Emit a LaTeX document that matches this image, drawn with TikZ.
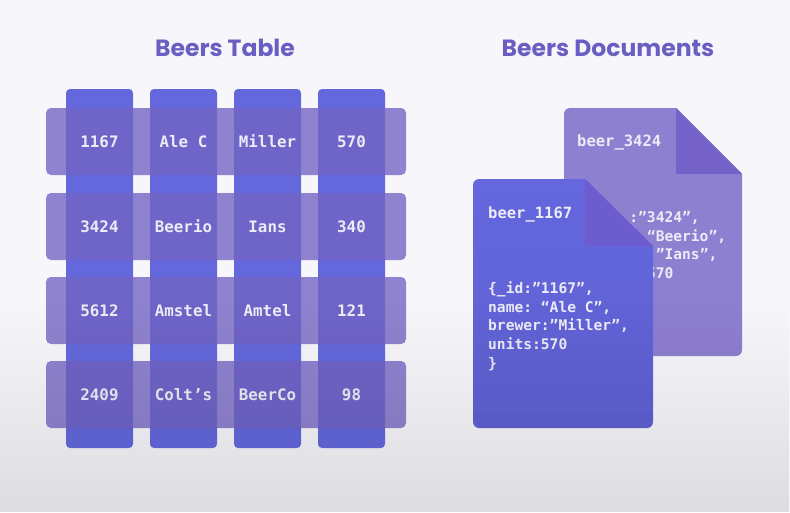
\documentclass[tikz,border=0pt]{standalone}
\usepackage{fontspec}
\setmainfont{Poppins}
\setmonofont{DejaVu Sans Mono}
\usetikzlibrary{fadings}

\definecolor{bgtop}{RGB}{247,247,251}
\definecolor{colblue}{RGB}{100,104,220}
\definecolor{rowpurple}{RGB}{115,99,195}
\definecolor{backdoc}{RGB}{142,128,208}
\definecolor{backfold}{RGB}{116,98,200}
\definecolor{fronttop}{RGB}{100,103,221}
\definecolor{frontbot}{RGB}{95,96,210}
\definecolor{frontfold}{RGB}{109,92,205}
\definecolor{titlecol}{RGB}{106,94,194}
\definecolor{celltext}{RGB}{236,236,246}

\tikzset{
  x=1pt, y=-1pt,
  heading/.style={font=\fontsize{23.5}{28}\selectfont\bfseries, text=titlecol,
    inner sep=0pt, text height=16.5pt, text depth=0pt},
  colbar/.style={fill=colblue, rounded corners=4pt, minimum width=67pt,
    minimum height=359pt, inner sep=0pt},
  rowbar/.style={fill=rowpurple, fill opacity=0.78, rounded corners=5pt,
    minimum width=360pt, minimum height=67pt, inner sep=0pt},
  cell/.style={font=\fontsize{15.8}{18}\ttfamily\bfseries, text=celltext,
    inner sep=0pt, text height=11.5pt, text depth=0pt},
  doctitle/.style={font=\fontsize{15.5}{18}\ttfamily\bfseries, text=celltext,
    inner sep=0pt, anchor=base west},
  docline/.style={font=\fontsize{14.6}{18}\ttfamily\bfseries, text=celltext,
    inner sep=0pt, anchor=base west},
}

\begin{document}
\begin{tikzpicture}
\useasboundingbox (0,0) rectangle (790,512);
\fill[bgtop] (0,0) rectangle (790,512);

% headings
\node[heading] (tabhead) at (225,48) {Beers Table};
\node[heading] (dochead) at (608,48) {Beers Documents};

% table: columns underneath, translucent rows on top
\foreach \c in {1,...,4}
  \node[colbar] (col\c) at ({99.5+84*(\c-1)},268.5) {};
\foreach \r/\yy in {1/141.5,2/226.5,3/310.5,4/394.5}
  \node[rowbar] (row\r) at (226,\yy) {};

\foreach \r/\yy/\a/\b/\cc/\d in {
    1/141.5/1167/Ale C/Miller/570,
    2/226.5/3424/Beerio/Ians/340,
    3/310.5/5612/Amstel/Amtel/121,
    4/394.5/2409/Colt’s/BeerCo/98}{
  \node[cell] (cell-\r-1) at (99.5,\yy) {\a};
  \node[cell] (cell-\r-2) at (183.5,\yy) {\b};
  \node[cell] (cell-\r-3) at (267.5,\yy) {\cc};
  \node[cell] (cell-\r-4) at (351.5,\yy) {\d};
}

% back document (its JSON body is mostly hidden by the front sheet,
% so only the tail of each line is set)
\fill[backdoc] (676,108) -- (742,174)
  {[rounded corners=6pt] -- (742,356) -- (564,356) -- (564,108)} -- cycle;
\fill[backfold] (676,108) -- (676,174) -- (742,174) -- cycle;
\node[doctitle] (backtitle) at (577,146.5) {beer\_3424};
\node[docline] (backline1) at ({594+4*8.8},222.3) {:”3424”,};
\node[docline] (backline2) at ({594+6*8.8},241.0) {“Beerio”,};
\node[docline] (backline3) at ({594+7*8.8},259.7) {”Ians”,};
\node[docline] (backline4) at ({594+6*8.8},278.4) {570};

% front document
\shade[top color=fronttop, bottom color=frontbot] (585,179) -- (653,246)
  {[rounded corners=6pt] -- (653,428) -- (473,428) -- (473,179)} -- cycle;
\fill[frontfold] (585,179) -- (585,246) -- (653,246) -- cycle;
\node[doctitle] (fronttitle) at (488,218.5) {beer\_1167};
\foreach \t [count=\i] in {{\{\_id:”1167”,},{name: “Ale C”,},{brewer:”Miller”,},{units:570},{\}}}
  \node[docline] (frontline\i) at (488,{293.3+18.7*(\i-1)}) {\t};

% darker lower edge
\fill[black, opacity=0.1, path fading=north] (0,300) rectangle (790,512);
\end{tikzpicture}
\end{document}
